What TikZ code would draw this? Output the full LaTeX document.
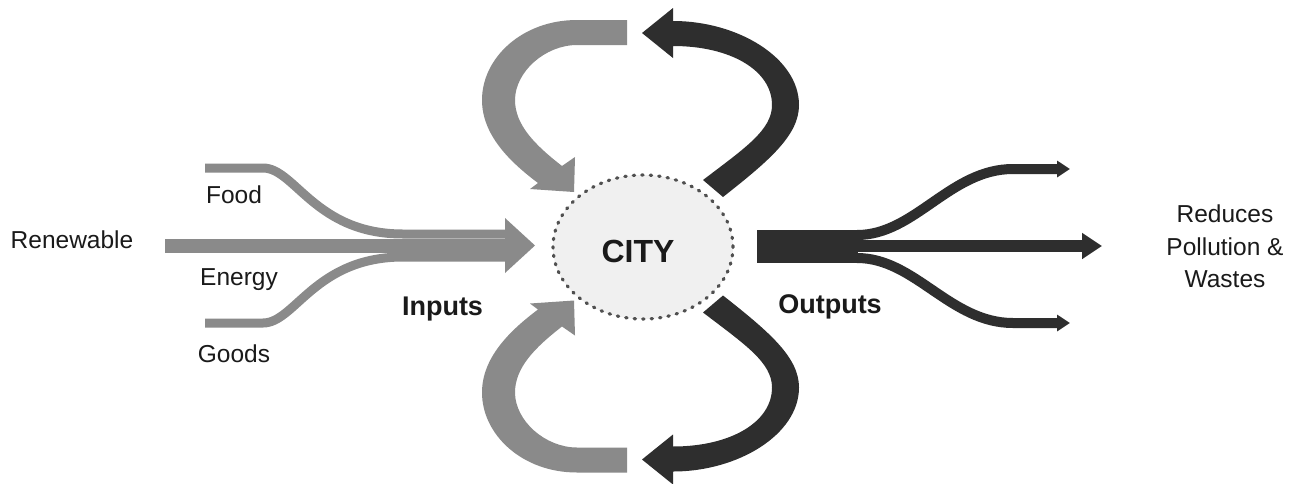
\documentclass[tikz,border=0pt]{standalone}
\usepackage{fontspec}
\setmainfont{Liberation Sans}
\usetikzlibrary{arrows.meta,shapes.geometric}
\definecolor{flowgrey}{HTML}{8A8A8A}
\definecolor{flowdark}{HTML}{2E2E2E}
\definecolor{cityfill}{HTML}{F0F0F0}
\definecolor{citydot}{HTML}{505050}
\definecolor{ink}{HTML}{1A1A1A}

\begin{document}
\begin{tikzpicture}[x=1pt,y=-1pt,
  lbl/.style={font=\fontsize{24.5}{32.5}\selectfont, text=ink, inner sep=0pt},
  boldlbl/.style={font=\fontsize{27}{27}\selectfont\bfseries, text=ink, inner sep=0pt},
  citylbl/.style={font=\fontsize{32}{32}\selectfont\bfseries, text=ink, inner sep=0pt},
  inflow/.style={draw=flowgrey, line cap=butt},
  outflow/.style={draw=flowdark, line cap=butt},
  smalltip/.style={-{Triangle[length=13pt,width=16pt]}},
  bigtip/.style={-{Triangle[length=20pt,width=25pt]}}]

\fill[white] (0,0) rectangle (1293,483);
\useasboundingbox (0,0) rectangle (1293,483);

% ---- the city ----
\node (city) [ellipse, draw=citydot, fill=cityfill, line width=3.2pt,
      dash pattern=on 1.4pt off 7.1pt, line cap=round,
      minimum width=180pt, minimum height=144pt, inner sep=0pt] at (643,247) {};
\node (citytext) [citylbl, anchor=base] at (638,262) {CITY};

% ---- recycling loops above and below the city ----
\foreach \s/\o in {1/0, -1/492.5}{
  \begin{scope}[shift={(0,\o)}, yscale=\s]
    % grey loop feeding back into the city
    \fill[flowgrey] (627,20) -- (577,20)
      .. controls (522,20) and (482,58) .. (482,100)
      .. controls (482,135) and (510,162) .. (538,183)
      -- (530,189) -- (574,192) -- (575,157) -- (562,166)
      .. controls (535,145) and (515,125) .. (515,100)
      .. controls (515,72) and (545,45) .. (577,45)
      -- (627,45) -- cycle;
    % dark loop leaving the city
    \fill[flowdark] (673,21)
      .. controls (738,21) and (799,58) .. (799,105)
      .. controls (799,135) and (770,160) .. (723,197)
      -- (703,180)
      .. controls (745,148) and (772,130) .. (772,105)
      .. controls (772,70) and (730,46) .. (673,46)
      -- (673,58) -- (642,33) -- (673,8) -- cycle;
  \end{scope}
}

% ---- inputs ----
\coordinate (foodin)  at (205,168);
\coordinate (renewin) at (165,245.5);
\coordinate (goodsin) at (205,323);
\coordinate (inmerge) at (506,245.5);
\coordinate (intip)   at (535,245.5);

\draw[inflow, line width=9pt] (foodin) -- (263,168)
  .. controls (295,168) and (315,234) .. (403,234) -- (inmerge |- 0,234);
\draw[inflow, line width=14pt] (renewin) -- (inmerge);
\draw[inflow, line width=9pt] (goodsin) -- (263,323)
  .. controls (295,323) and (315,257) .. (403,257) -- (inmerge |- 0,257);
\fill[flowgrey] (505,218) -- (intip) -- (505,273) -- cycle;

% ---- outputs ----
\coordinate (outstart) at (757,246.5);
\coordinate (outsplit) at (858,246.5);
\coordinate (outtop)   at (1070,169);
\coordinate (outmid)   at (1102,246);
\coordinate (outbot)   at (1070,323);

\fill[flowdark] (outstart |- 0,230) rectangle (outsplit |- 0,263);
\draw[outflow, line width=10pt, smalltip] (857,235)
  .. controls (915,235) and (950,169) .. (1013,169) -- (outtop);
\draw[outflow, line width=12pt, bigtip] (857,246) -- (outmid);
\draw[outflow, line width=10pt, smalltip] (857,258)
  .. controls (915,258) and (950,323) .. (1013,323) -- (outbot);

% ---- labels ----
\node (renewable) [lbl, anchor=base] at (72,248)  {Renewable};
\node (food)      [lbl, anchor=base] at (234,203) {Food};
\node (energy)    [lbl, anchor=base] at (239,285) {Energy};
\node (goods)     [lbl, anchor=base] at (234,362) {Goods};
\node (inputs)    [boldlbl, anchor=base] at (442.5,315) {Inputs};
\node (outputs)   [boldlbl, anchor=base] at (830,313) {Outputs};
\node (result)    [lbl, align=center, anchor=center] at (1225,246.5)
      {Reduces\\Pollution \&\\Wastes};
\end{tikzpicture}
\end{document}
